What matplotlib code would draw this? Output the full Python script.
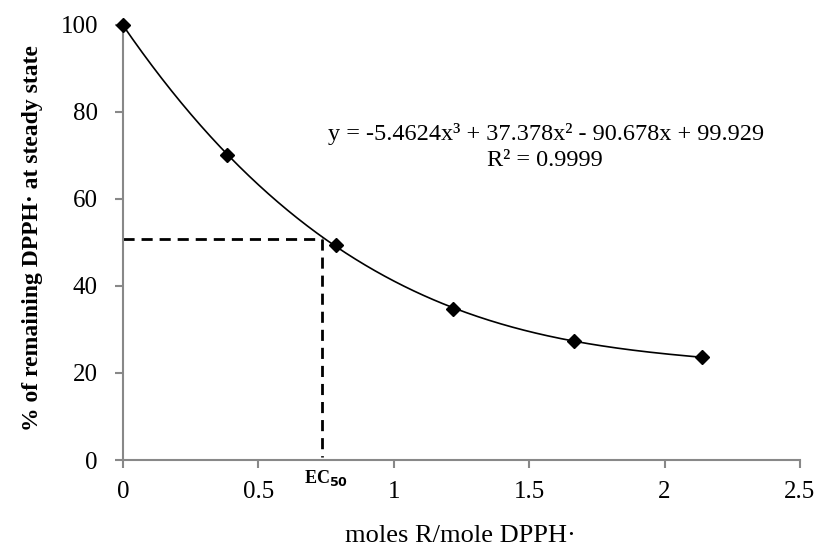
import numpy as np
import matplotlib
matplotlib.use("Agg")
import matplotlib.pyplot as plt

x_vals = [0.0, 0.385, 0.788, 1.217, 1.665, 2.14]
y_vals = [100.0, 70.0, 49.4, 34.8, 27.4, 23.6]
ec50_x = 0.736
ec50_y = 50.8
x_ticks = [0, 0.5, 1, 1.5, 2, 2.5]
y_ticks = [0, 20, 40, 60, 80, 100]
equation = "y = -5.4624x\u00b3 + 37.378x\u00b2 - 90.678x + 99.929"
r2_text = "R\u00b2 = 0.9999"

plt.rcParams['font.family'] = ['Liberation Serif', 'DejaVu Serif']

fig = plt.figure(figsize=(8.21, 5.59), dpi=100)
ax = fig.add_axes([0.1498, 0.1771, 0.8246, 0.7782])

coef = np.polyfit(x_vals, y_vals, 3)
xs = np.linspace(min(x_vals), max(x_vals), 300)
ax.plot(xs, np.polyval(coef, xs), color='black', lw=1.2, zorder=2)
ax.plot(x_vals, y_vals, linestyle='none', marker='D', color='black', markersize=7, zorder=3, clip_on=False)

ax.plot([0, ec50_x], [ec50_y, ec50_y], color='black', lw=2, ls=(0, (4, 2.5)), zorder=1)
ax.plot([ec50_x, ec50_x], [ec50_y, 0.6], color='black', lw=2, ls=(0, (4, 2.5)), zorder=1)

ax.set_xlim(0, 2.5)
ax.set_ylim(0, 100)
ax.set_xticks(x_ticks)
ax.set_xticklabels(['0', '0.5', '1', '1.5', '2', '2.5'])
ax.set_yticks(y_ticks)
ax.tick_params(axis='both', direction='out', length=6, width=1.5, color='#888888',
               labelsize=18)
ax.tick_params(axis='x', pad=9)
ax.tick_params(axis='y', pad=12)
for s in ['top', 'right']:
    ax.spines[s].set_visible(False)
for s in ['left', 'bottom']:
    ax.spines[s].set_color('#888888')
    ax.spines[s].set_linewidth(1.5)

ax.set_ylabel("% of remaining DPPH\u00b7 at steady state", fontsize=17, fontweight='bold')
ax.yaxis.set_label_coords(-0.118, 0.51)
fig.text(460/821, 1 - 536/559, "moles R/mole DPPH\u00b7", fontsize=19, ha='center', va='center')

fig.text(546/821, 1 - 134/559, equation, fontsize=17.5, ha='center', va='center')
fig.text(545/821, 1 - 161/559, r2_text, fontsize=17.5, ha='center', va='center')

fig.text(326/821, 1 - 478/559, r"EC$_{\mathbf{50}}$", fontsize=13, fontweight='bold', ha='center', va='center')

fig.savefig("out.png", dpi=100)
